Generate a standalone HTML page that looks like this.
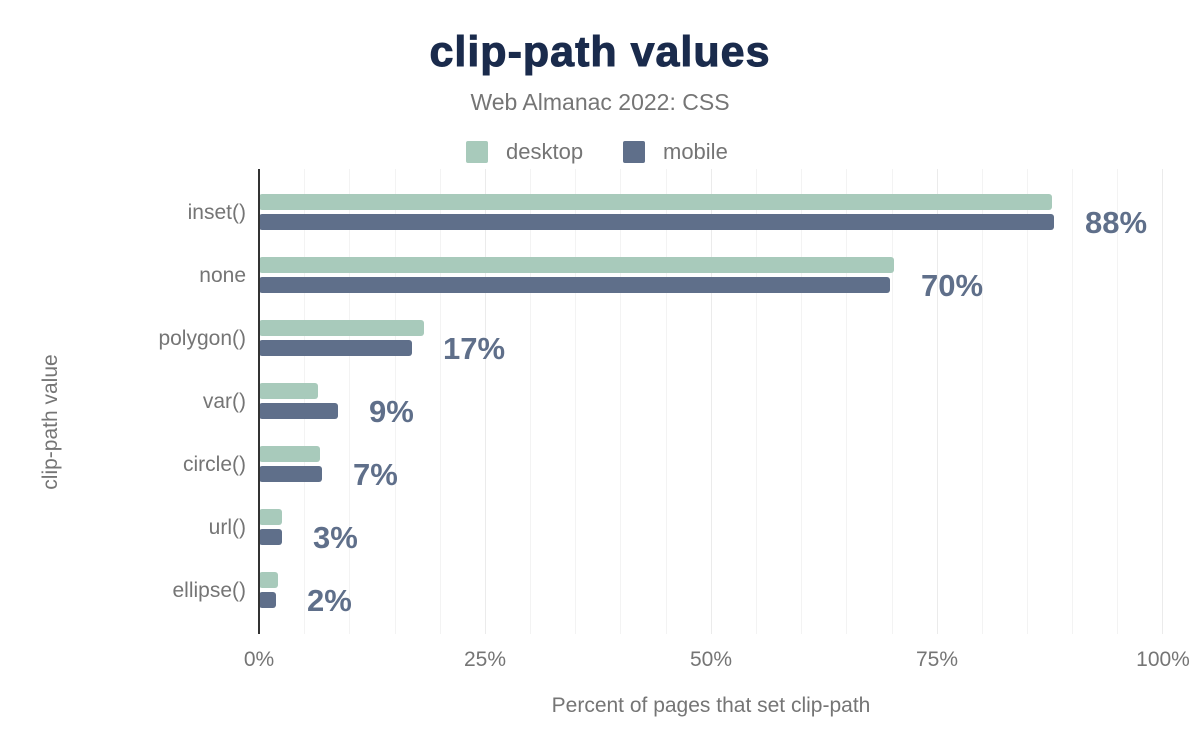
<!DOCTYPE html>
<html><head><meta charset="utf-8"><style>
html,body{margin:0;padding:0;background:#fff;}
text{font-family:"Liberation Sans",Arial,sans-serif;}
</style></head><body>
<svg width="1200" height="742" xmlns="http://www.w3.org/2000/svg">
<rect width="1200" height="742" fill="#fff"/>
<text x="600" y="66" text-anchor="middle" font-size="43" font-weight="bold" letter-spacing="1" fill="#1a2b4c" stroke="#1a2b4c" stroke-width="1">clip-path values</text>
<text x="600" y="110" text-anchor="middle" font-size="23" fill="#757575">Web Almanac 2022: CSS</text>
<rect x="466" y="141" width="22" height="22" rx="2" fill="#a8cabb"/>
<text x="506" y="159" font-size="22" fill="#757575">desktop</text>
<rect x="623" y="141" width="22" height="22" rx="2" fill="#5f6f8a"/>
<text x="663" y="159" font-size="22" fill="#757575">mobile</text>
<g stroke="#f3f3f3" stroke-width="1">
<line x1="304.5" y1="169" x2="304.5" y2="634"/><line x1="349.5" y1="169" x2="349.5" y2="634"/><line x1="395.5" y1="169" x2="395.5" y2="634"/><line x1="440.5" y1="169" x2="440.5" y2="634"/><line x1="485.5" y1="169" x2="485.5" y2="634" stroke="#ebebeb"/><line x1="530.5" y1="169" x2="530.5" y2="634"/><line x1="575.5" y1="169" x2="575.5" y2="634"/><line x1="620.5" y1="169" x2="620.5" y2="634"/><line x1="666.5" y1="169" x2="666.5" y2="634"/><line x1="711.5" y1="169" x2="711.5" y2="634" stroke="#ebebeb"/><line x1="756.5" y1="169" x2="756.5" y2="634"/><line x1="801.5" y1="169" x2="801.5" y2="634"/><line x1="846.5" y1="169" x2="846.5" y2="634"/><line x1="892.5" y1="169" x2="892.5" y2="634"/><line x1="937.5" y1="169" x2="937.5" y2="634" stroke="#ebebeb"/><line x1="982.5" y1="169" x2="982.5" y2="634"/><line x1="1027.5" y1="169" x2="1027.5" y2="634"/><line x1="1072.5" y1="169" x2="1072.5" y2="634"/><line x1="1117.5" y1="169" x2="1117.5" y2="634"/><line x1="1162.5" y1="169" x2="1162.5" y2="634" stroke="#ebebeb"/>
</g>
<g>
<rect x="259" y="194" width="793" height="16" rx="3" fill="#a8cabb"/><rect x="259" y="214" width="795" height="16" rx="3" fill="#5f6f8a"/>
<rect x="259" y="257" width="635" height="16" rx="3" fill="#a8cabb"/><rect x="259" y="277" width="631" height="16" rx="3" fill="#5f6f8a"/>
<rect x="259" y="320" width="165" height="16" rx="3" fill="#a8cabb"/><rect x="259" y="340" width="153" height="16" rx="3" fill="#5f6f8a"/>
<rect x="259" y="383" width="59" height="16" rx="3" fill="#a8cabb"/><rect x="259" y="403" width="79" height="16" rx="3" fill="#5f6f8a"/>
<rect x="259" y="446" width="61" height="16" rx="3" fill="#a8cabb"/><rect x="259" y="466" width="63" height="16" rx="3" fill="#5f6f8a"/>
<rect x="259" y="509" width="23" height="16" rx="3" fill="#a8cabb"/><rect x="259" y="529" width="23" height="16" rx="3" fill="#5f6f8a"/>
<rect x="259" y="572" width="19" height="16" rx="3" fill="#a8cabb"/><rect x="259" y="592" width="17" height="16" rx="3" fill="#5f6f8a"/>
</g>
<g font-size="31" font-weight="bold" fill="#5f6f8a">
<text x="1085" y="233">88%</text><text x="921" y="296">70%</text><text x="443" y="359">17%</text><text x="369" y="422">9%</text><text x="353" y="485">7%</text><text x="313" y="548">3%</text><text x="307" y="611">2%</text>
</g>
<line x1="259" y1="169" x2="259" y2="634" stroke="#333" stroke-width="2"/>
<g font-size="21" fill="#757575" text-anchor="end">
<text x="246" y="219">inset()</text><text x="246" y="282">none</text><text x="246" y="345">polygon()</text><text x="246" y="408">var()</text><text x="246" y="471">circle()</text><text x="246" y="534">url()</text><text x="246" y="597">ellipse()</text>
</g>
<g font-size="21" fill="#757575" text-anchor="middle">
<text x="259" y="666">0%</text><text x="485" y="666">25%</text><text x="711" y="666">50%</text><text x="937" y="666">75%</text><text x="1163" y="666">100%</text>
</g>
<text x="711" y="712" text-anchor="middle" font-size="21" fill="#757575">Percent of pages that set clip-path</text>
<text transform="translate(57,422) rotate(-90)" text-anchor="middle" font-size="21" fill="#757575">clip-path value</text>
</svg>
</body></html>
